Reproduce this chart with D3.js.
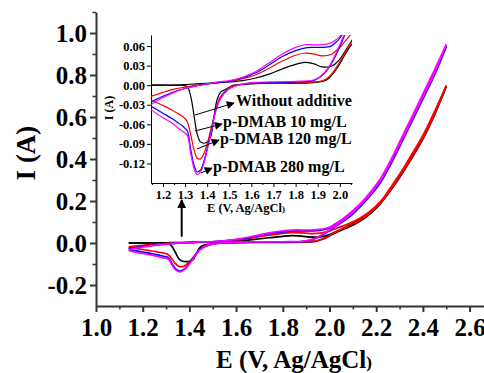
<!DOCTYPE html>
<html>
<head>
<meta charset="utf-8">
<script src="https://cdn.jsdelivr.net/npm/d3@7"></script>
<style>
  body { margin: 0; background: #fff; }
  svg { display: block; }
  text { font-family: "Liberation Serif", "Times New Roman", serif; font-weight: bold; fill: #000; }
</style>
</head>
<body>
<div class="chart"></div>
<script>

// forward scan (low E -> high E)
const fwdE = [1.14, 1.2, 1.25, 1.3, 1.35, 1.4, 1.45, 1.5, 1.56, 1.62, 1.68, 1.74, 1.8, 1.84, 1.88, 1.92, 1.96, 1.98, 2.0, 2.02, 2.05, 2.09, 2.13, 2.17, 2.22, 2.26, 2.3, 2.35, 2.4, 2.45, 2.5];
const fwdBlack = [0, 0, 0, 0.001, 0.002, 0.003, 0.004, 0.005, 0.007, 0.011, 0.017, 0.025, 0.032, 0.035, 0.033, 0.028, 0.029, 0.033, 0.040, 0.050, 0.066, 0.088, 0.112, 0.140, 0.195, 0.255, 0.320, 0.410, 0.505, 0.620, 0.745];
const fwdRed = [-0.018, -0.011, -0.006, -0.003, 0.0, 0.002, 0.004, 0.006, 0.010, 0.016, 0.026, 0.037, 0.046, 0.049, 0.048, 0.045, 0.047, 0.052, 0.058, 0.066, 0.078, 0.096, 0.118, 0.148, 0.200, 0.262, 0.327, 0.418, 0.512, 0.627, 0.750];
const fwdBlue = [-0.027, -0.017, -0.010, -0.005, -0.001, 0.002, 0.004, 0.006, 0.011, 0.019, 0.031, 0.044, 0.053, 0.057, 0.058, 0.058, 0.060, 0.065, 0.072, 0.084, 0.105, 0.140, 0.178, 0.228, 0.300, 0.380, 0.470, 0.585, 0.700, 0.815, 0.935];
const fwdMagenta = [-0.031, -0.019, -0.011, -0.005, -0.001, 0.002, 0.005, 0.007, 0.012, 0.021, 0.034, 0.048, 0.058, 0.062, 0.062, 0.062, 0.065, 0.069, 0.075, 0.088, 0.110, 0.145, 0.185, 0.235, 0.310, 0.390, 0.480, 0.595, 0.710, 0.825, 0.945];

// reverse scan (high E -> low E)
const revE = [2.5, 2.45, 2.4, 2.35, 2.3, 2.26, 2.22, 2.18, 2.14, 2.1, 2.07, 2.04, 2.02, 2.0, 1.97, 1.94, 1.91, 1.88, 1.8, 1.7, 1.6, 1.52, 1.49, 1.46, 1.445, 1.43, 1.415, 1.4, 1.385, 1.37, 1.355, 1.34, 1.325, 1.31, 1.29, 1.27, 1.24, 1.2, 1.14];
const revBlack = [0.745, 0.610, 0.495, 0.400, 0.312, 0.248, 0.190, 0.145, 0.110, 0.085, 0.070, 0.056, 0.045, 0.033, 0.018, 0.008, 0.005, 0.004, 0.003, 0.003, 0.002, 0.000, -0.005, -0.011, -0.022, -0.050, -0.080, -0.087, -0.089, -0.087, -0.075, -0.045, -0.016, -0.002, 0, 0, 0, 0, 0];
const revRed = [0.750, 0.615, 0.500, 0.405, 0.317, 0.252, 0.193, 0.150, 0.115, 0.090, 0.075, 0.060, 0.048, 0.036, 0.020, 0.010, 0.006, 0.005, 0.004, 0.004, 0.003, -0.001, -0.006, -0.018, -0.030, -0.050, -0.070, -0.090, -0.105, -0.113, -0.112, -0.098, -0.075, -0.056, -0.048, -0.044, -0.038, -0.031, -0.022];
const revBlue = [0.935, 0.800, 0.685, 0.572, 0.458, 0.370, 0.290, 0.232, 0.182, 0.138, 0.112, 0.089, 0.075, 0.059, 0.038, 0.022, 0.012, 0.007, 0.005, 0.004, 0.003, -0.002, -0.008, -0.020, -0.032, -0.050, -0.075, -0.097, -0.117, -0.130, -0.133, -0.122, -0.097, -0.070, -0.063, -0.058, -0.051, -0.043, -0.031];
const revMagenta = [0.945, 0.810, 0.695, 0.582, 0.468, 0.380, 0.300, 0.240, 0.190, 0.145, 0.118, 0.093, 0.078, 0.062, 0.040, 0.023, 0.013, 0.008, 0.006, 0.005, 0.004, -0.002, -0.008, -0.021, -0.033, -0.052, -0.078, -0.100, -0.120, -0.133, -0.137, -0.127, -0.103, -0.077, -0.071, -0.066, -0.058, -0.050, -0.036];

const seriesNames = ["Without additive", "p-DMAB 10 mg/L", "p-DMAB 120 mg/L", "p-DMAB 280 mg/L"];
const seriesColors = ["#000000", "#ff0000", "#0000ff", "#ff00ff"];
const fwdSeries = [fwdBlack, fwdRed, fwdBlue, fwdMagenta];
const revSeries = [revBlack, revRed, revBlue, revMagenta];

// ticks
const xTicks = [1.0, 1.2, 1.4, 1.6, 1.8, 2.0, 2.2, 2.4, 2.6];
const xMinor = [1.1, 1.3, 1.5, 1.7, 1.9, 2.1, 2.3, 2.5];
const yTicks = [-0.2, 0.0, 0.2, 0.4, 0.6, 0.8, 1.0];
const yMinor = [-0.1, 0.1, 0.3, 0.5, 0.7, 0.9, 1.1];
const insetXTicks = [1.2, 1.3, 1.4, 1.5, 1.6, 1.7, 1.8, 1.9, 2.0];
const insetXMinor = [1.15, 1.25, 1.35, 1.45, 1.55, 1.65, 1.75, 1.85, 1.95, 2.05];
const insetYTicks = [-0.12, -0.09, -0.06, -0.03, 0.00, 0.03, 0.06];

const width = 484;
const height = 373;

const svg = d3.select(".chart")
	.append("svg")
		.attr("width", width)
		.attr("height", height);

const x = d3.scaleLinear().domain([1.0, 2.66]).range([96, 483.6]);
const y = d3.scaleLinear().domain([-0.3, 1.1]).range([306, 12]);

const xi = d3.scaleLinear().domain([1.146, 2.055]).range([151, 352]);
const yi = d3.scaleLinear().domain([-0.15, 0.077]).range([183, 35]);

function styleAxis(g, w, color) {
	g.select(".domain").attr("stroke", color).attr("stroke-width", w);
	g.selectAll(".tick line").attr("stroke", color).attr("stroke-width", w);
	g.selectAll(".tick text").attr("fill", "#000");
}

// main axes
const gx = svg.append("g")
	.attr("transform", `translate(0,${y(-0.3)})`)
	.call(d3.axisBottom(x).tickValues(xTicks).tickSize(6).tickSizeOuter(0).tickPadding(6)
		.tickFormat((d) => d.toFixed(1)));
gx.attr("font-size", 25).attr("font-family", null);
styleAxis(gx, 2, "#333");

const gxm = svg.append("g")
	.attr("transform", `translate(0,${y(-0.3)})`)
	.call(d3.axisBottom(x).tickValues(xMinor).tickSize(3.5).tickFormat(""));
gxm.select(".domain").remove();
styleAxis(gxm, 1.5, "#333");

const gy = svg.append("g")
	.attr("transform", `translate(${x(1.0)},0)`)
	.call(d3.axisLeft(y).tickValues(yTicks).tickSize(6).tickSizeOuter(0).tickPadding(3)
		.tickFormat((d) => d.toFixed(1)));
gy.attr("font-size", 25).attr("font-family", null);
styleAxis(gy, 2, "#333");

const gym = svg.append("g")
	.attr("transform", `translate(${x(1.0)},0)`)
	.call(d3.axisLeft(y).tickValues(yMinor).tickSize(3.5).tickFormat(""));
gym.select(".domain").remove();
styleAxis(gym, 1.5, "#333");

// axis titles
svg.append("text")
	.attr("transform", "translate(35,153) rotate(-90)")
	.attr("text-anchor", "middle")
	.style("font-size", "27px")
	.text("I (A)");

const xt = svg.append("text")
	.attr("x", 294)
	.attr("y", 368)
	.attr("text-anchor", "middle")
	.style("font-size", "25px")
	.text("E (V, Ag/AgCl");
xt.append("tspan").style("font-size", "17px").text(")");

// main curves
const line = d3.line()
	.x((d) => x(d[0]))
	.y((d) => y(d[1]))
	.curve(d3.curveCatmullRom.alpha(0.5));

const mainG = svg.append("g").attr("class", "curves");
seriesNames.forEach((name, i) => {
	const fwd = fwdE.map((e, k) => [e, fwdSeries[i][k]]);
	const rev = revE.map((e, k) => [e, revSeries[i][k]]);
	[fwd, rev].forEach((pts) => {
		mainG.append("path")
			.attr("d", line(pts))
			.attr("fill", "none")
			.attr("stroke", seriesColors[i])
			.attr("stroke-width", 1.7);
	});
});

// arrow markers
const defs = svg.append("defs");
defs.append("marker")
	.attr("id", "head")
	.attr("viewBox", "0 -5 10 10")
	.attr("refX", 9)
	.attr("refY", 0)
	.attr("markerUnits", "userSpaceOnUse")
	.attr("markerWidth", 9)
	.attr("markerHeight", 8)
	.attr("orient", "auto")
	.append("path")
		.attr("d", "M0,-5L10,0L0,5Z")
		.attr("fill", "#000");

defs.append("marker")
	.attr("id", "bighead")
	.attr("viewBox", "0 -5 10 10")
	.attr("refX", 9)
	.attr("refY", 0)
	.attr("markerUnits", "userSpaceOnUse")
	.attr("markerWidth", 13)
	.attr("markerHeight", 9)
	.attr("orient", "auto")
	.append("path")
		.attr("d", "M0,-5L10,0L0,5Z")
		.attr("fill", "#000");

// vertical arrow pointing at the inset
svg.append("line")
	.attr("x1", x(1.367)).attr("y1", y(0.03))
	.attr("x2", x(1.367)).attr("y2", y(0.205))
	.attr("stroke", "#000")
	.attr("stroke-width", 2)
	.attr("marker-end", "url(#bighead)");

// inset
defs.append("clipPath")
	.attr("id", "insetClip")
	.append("rect")
		.attr("x", xi.range()[0])
		.attr("y", yi.range()[1])
		.attr("width", xi.range()[1] - xi.range()[0])
		.attr("height", yi.range()[0] - yi.range()[1]);

const inset = svg.append("g").attr("class", "inset");

const ix = inset.append("g")
	.attr("transform", `translate(0,${yi(-0.15)})`)
	.call(d3.axisBottom(xi).tickValues(insetXTicks).tickSize(4).tickSizeOuter(0).tickPadding(3)
		.tickFormat((d) => d.toFixed(1)));
ix.attr("font-size", 12.5).attr("font-family", null);
styleAxis(ix, 1, "#000");

const ixm = inset.append("g")
	.attr("transform", `translate(0,${yi(-0.15)})`)
	.call(d3.axisBottom(xi).tickValues(insetXMinor).tickSize(2).tickFormat(""));
ixm.select(".domain").remove();
styleAxis(ixm, 1, "#000");

const iy = inset.append("g")
	.attr("transform", `translate(${xi(1.146)},0)`)
	.call(d3.axisLeft(yi).tickValues(insetYTicks).tickSize(4).tickSizeOuter(0).tickPadding(2)
		.tickFormat((d) => d.toFixed(2)));
iy.attr("font-size", 12.5).attr("font-family", null);
styleAxis(iy, 1, "#000");

inset.append("text")
	.attr("transform", "translate(113,108) rotate(-90)")
	.attr("text-anchor", "middle")
	.style("font-size", "12px")
	.text("I (A)");

const ixt = inset.append("text")
	.attr("x", 246)
	.attr("y", 212)
	.attr("text-anchor", "middle")
	.style("font-size", "12.5px")
	.text("E (V, Ag/AgCl");
ixt.append("tspan").style("font-size", "9px").text(")");

const iline = d3.line()
	.x((d) => xi(d[0]))
	.y((d) => yi(d[1]))
	.curve(d3.curveCatmullRom.alpha(0.5));

const insetCurves = inset.append("g").attr("clip-path", "url(#insetClip)");
seriesNames.forEach((name, i) => {
	const fwd = fwdE.map((e, k) => [e, fwdSeries[i][k]]);
	const rev = revE.map((e, k) => [e, revSeries[i][k]]);
	[fwd, rev].forEach((pts) => {
		insetCurves.append("path")
			.attr("d", iline(pts))
			.attr("fill", "none")
			.attr("stroke", seriesColors[i])
			.attr("stroke-width", 1.2);
	});
});

// labels with arrows
const notes = [
	{ x1: 195, y1: 115, x2: 234, y2: 103, tx: 236, ty: 106 },
	{ x1: 195, y1: 131, x2: 222, y2: 124, tx: 223, ty: 127 },
	{ x1: 197, y1: 149, x2: 219, y2: 140, tx: 220, ty: 144 },
	{ x1: 201, y1: 173, x2: 212, y2: 168, tx: 213, ty: 172 }
];
notes.forEach((n, i) => {
	inset.append("line")
		.attr("x1", n.x1).attr("y1", n.y1)
		.attr("x2", n.x2).attr("y2", n.y2)
		.attr("stroke", "#000")
		.attr("stroke-width", 1)
		.attr("marker-end", "url(#head)");
	inset.append("text")
		.attr("x", n.tx)
		.attr("y", n.ty)
		.style("font-size", "16px")
		.text(seriesNames[i]);
});

</script>
</body>
</html>
